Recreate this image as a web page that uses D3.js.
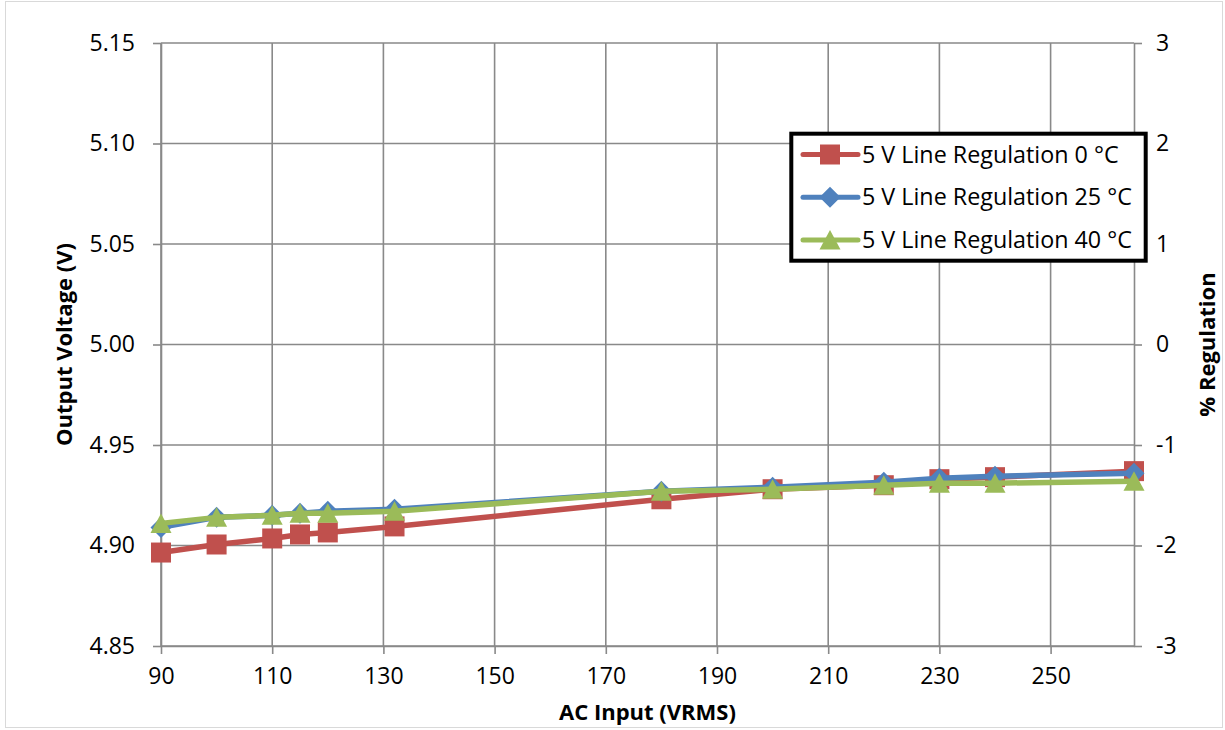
<!DOCTYPE html>
<html>
<head>
<meta charset="utf-8">
<script src="https://cdn.jsdelivr.net/npm/d3@7"></script>
<style>
  body { margin: 0; background: #fff; }
  text { font-family: "Open Sans", sans-serif; fill: #000; }
</style>
</head>
<body>
<div id="chart"></div>
<script>
// AC input sweep (VRMS)
var acInput = [90, 100, 110, 115, 120, 132, 180, 200, 220, 230, 240, 265];

// output voltage per temperature (V)
var vout0C  = [4.8965, 4.9005, 4.9035, 4.9055, 4.9065, 4.9095, 4.923, 4.928, 4.930, 4.933, 4.934, 4.937];
var vout25C = [4.909, 4.914, 4.915, 4.916, 4.917, 4.918, 4.927, 4.929, 4.9315, 4.9335, 4.9345, 4.936];
var vout40C = [4.911, 4.914, 4.915, 4.916, 4.916, 4.917, 4.927, 4.928, 4.930, 4.931, 4.931, 4.932];

var seriesNames = ["5 V Line Regulation 0 °C", "5 V Line Regulation 25 °C", "5 V Line Regulation 40 °C"];
var xTicks = [90, 110, 130, 150, 170, 190, 210, 230, 250];
var yTicks = [4.85, 4.90, 4.95, 5.00, 5.05, 5.10, 5.15];
var y2Ticks = [-3, -2, -1, 0, 1, 2, 3];

var width = 1225,
    height = 730,
    margin = {top: 43, left: 161, right: 91, bottom: 84};

var colors = ["#C0504D", "#4F81BD", "#9BBB59"],
    shapes = ["square", "diamond", "triangle"],
    gridColor = "#898989";

var svg = d3.select("#chart").append("svg")
  .attr("width", width)
  .attr("height", height);

// chart frame
svg.append("rect")
  .attr("x", 5.5).attr("y", 1.5)
  .attr("width", width - 8).attr("height", height - 4)
  .style("fill", "none")
  .style("stroke", "#d9d9d9");

var x = d3.scaleLinear()
  .domain([90, 265])
  .range([margin.left, width - margin.right]);

var y = d3.scaleLinear()
  .domain([4.85, 5.15])
  .range([height - margin.bottom, margin.top]);

var y2 = d3.scaleLinear()
  .domain([-3, 3])
  .range([height - margin.bottom, margin.top]);

// gridlines
svg.append("g").selectAll("line.h")
  .data(yTicks)
  .enter().append("line")
  .attr("x1", x(90)).attr("x2", x(265))
  .attr("y1", d => y(d)).attr("y2", d => y(d))
  .style("stroke", gridColor).style("stroke-width", 1.6);

svg.append("g").selectAll("line.v")
  .data(xTicks)
  .enter().append("line")
  .attr("x1", d => x(d)).attr("x2", d => x(d))
  .attr("y1", y(4.85)).attr("y2", y(5.15))
  .style("stroke", gridColor).style("stroke-width", 1.6);

// axes
var xAxis = svg.append("g")
  .attr("transform", "translate(0," + y(4.85) + ")")
  .call(d3.axisBottom(x).tickValues(xTicks).tickSize(8).tickSizeOuter(0).tickPadding(14));

var yAxis = svg.append("g")
  .attr("transform", "translate(" + x(90) + ",0)")
  .call(d3.axisLeft(y).tickValues(yTicks).tickFormat(d3.format(".2f")).tickSize(8).tickSizeOuter(0).tickPadding(18));

var y2Axis = svg.append("g")
  .attr("transform", "translate(" + x(265) + ",0)")
  .call(d3.axisRight(y2).tickValues(y2Ticks).tickFormat(d3.format("d")).tickSize(8).tickSizeOuter(0).tickPadding(14));

[xAxis, yAxis, y2Axis].forEach(function(g) {
  g.select(".domain").style("stroke", gridColor).style("stroke-width", 1.6);
  g.selectAll(".tick line").style("stroke", gridColor).style("stroke-width", 1.6);
  g.selectAll(".tick text")
    .style("font-family", "'Open Sans', sans-serif")
    .style("font-size", "23px")
    .style("fill", "#000");
});
y2Axis.selectAll(".tick text").text(d => d < 0 ? "-" + Math.abs(d) : d);

// axis titles
svg.append("text")
  .attr("x", (x(90) + x(265)) / 2)
  .attr("y", 720)
  .style("text-anchor", "middle")
  .style("font-size", "22px")
  .style("font-weight", "bold")
  .text("AC Input (VRMS)");

svg.append("text")
  .attr("transform", "translate(72," + (y(5.0)) + ") rotate(-90)")
  .style("text-anchor", "middle")
  .style("font-size", "22px")
  .style("font-weight", "bold")
  .text("Output Voltage (V)");

svg.append("text")
  .attr("transform", "translate(1215," + (y(5.0)) + ") rotate(-90)")
  .style("text-anchor", "middle")
  .style("font-size", "22px")
  .style("font-weight", "bold")
  .text("% Regulation");

// marker shapes
function marker(shape) {
  if (shape === "square") return "M-10,-10H10V10H-10Z";
  if (shape === "diamond") return "M0,-10.5L10.5,0L0,10.5L-10.5,0Z";
  return "M0,-10L10.5,9.5H-10.5Z";
}

var series = [vout0C, vout25C, vout40C];

var line = d3.line()
  .x(d => x(d.v))
  .y(d => y(d.out));

series.forEach(function(vals, i) {
  var pts = acInput.map((v, j) => ({v: v, out: vals[j]}));
  var g = svg.append("g");
  g.append("path")
    .datum(pts)
    .attr("d", line)
    .style("fill", "none")
    .style("stroke", colors[i])
    .style("stroke-width", 5.5)
    .style("stroke-linejoin", "round")
    .style("stroke-linecap", "round");
  g.selectAll("path.m")
    .data(pts)
    .enter().append("path")
    .attr("class", "m")
    .attr("transform", d => "translate(" + x(d.v) + "," + y(d.out) + ")")
    .attr("d", marker(shapes[i]))
    .style("fill", colors[i]);
});

// legend
var legend = svg.append("g");
legend.append("rect")
  .attr("x", 791.3).attr("y", 133.7)
  .attr("width", 354.4).attr("height", 127)
  .style("fill", "#fff")
  .style("stroke", "#000")
  .style("stroke-width", 4);

var legendY = d3.scalePoint()
  .domain(seriesNames)
  .range([154.5, 240]);

seriesNames.forEach(function(name, i) {
  var ly = legendY(name);
  legend.append("line")
    .attr("x1", 803).attr("x2", 858)
    .attr("y1", ly).attr("y2", ly)
    .style("stroke", colors[i])
    .style("stroke-width", 5)
    .style("stroke-linecap", "round");
  legend.append("path")
    .attr("transform", "translate(830," + ly + ")")
    .attr("d", marker(shapes[i]))
    .style("fill", colors[i]);
  legend.append("text")
    .attr("x", 862)
    .attr("y", ly)
    .attr("dy", "0.35em")
    .style("font-size", "23.3px")
    .text(name);
});
</script>
</body>
</html>
